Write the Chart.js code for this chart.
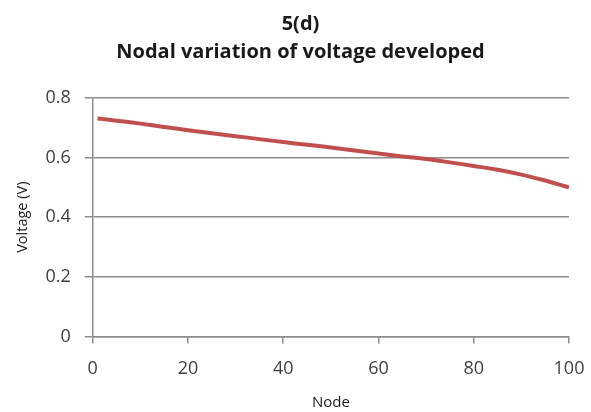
<!DOCTYPE html>
<html>
<head>
<meta charset="utf-8">
<script src="https://cdn.jsdelivr.net/npm/chart.js@4/dist/chart.umd.min.js"></script>
<style>
	html, body { margin: 0; padding: 0; background: #ffffff; }
	#wrap { width: 591px; height: 412px; }
</style>
</head>
<body>
<div id="wrap"><canvas id="volt-chart" width="591" height="412"></canvas></div>
<script>
var nodes = [1, 5, 10, 15, 20, 25, 30, 35, 40, 45, 50, 55, 60, 65, 70, 75, 80, 85, 90, 95, 100];
var voltage = [0.731, 0.724, 0.714, 0.703, 0.692, 0.682, 0.672, 0.662, 0.652, 0.643, 0.634,
	0.624, 0.614, 0.604, 0.595, 0.584, 0.572, 0.559, 0.543, 0.523, 0.500];
var titleLines = ["5(d)", "Nodal variation of voltage developed"];

var points = [];
for (var i = 0; i < nodes.length; i++) {
	points.push({x: nodes[i], y: voltage[i]});
}

var gridColor = "#8c8c8c";
var textColor = "#404040";
var fontName = "'Open Sans', 'Liberation Sans', sans-serif";

var voltChart = new Chart(document.getElementById("volt-chart"), {
	type: 'line',
	data: {
		datasets: [{
			data: points,
			borderColor: "#c0504d",
			borderWidth: 4,
			pointRadius: 0,
			tension: 0.4,
			fill: false
		}]
	},
	options: {
		responsive: false,
		animation: false,
		layout: { padding: { top: 0, right: 0, left: 10, bottom: 0 } },
		plugins: {
			legend: { display: false },
			tooltip: { enabled: false },
			title: {
				display: true,
				text: titleLines,
				color: "#1a1a1a",
				font: { family: fontName, size: 20, weight: 'bold', lineHeight: 1.4 },
				padding: { top: 10, bottom: 32 }
			}
		},
		scales: {
			x: {
				type: 'linear',
				min: 0,
				max: 100,
				ticks: { stepSize: 20, color: textColor, font: { family: fontName, size: 18 }, padding: 15 },
				grid: { drawOnChartArea: false, color: gridColor, tickLength: 7, lineWidth: 1.5 },
				border: { color: gridColor, width: 1.5 },
				title: { display: true, text: "Node", color: "#1a1a1a", font: { family: fontName, size: 15, lineHeight: 1 }, padding: { top: 0, bottom: 2 } },
				// keep the right margin tight, only room for half of the "100" label
				afterFit: function(scale) { scale.paddingRight = 22; }
			},
			y: {
				min: 0,
				max: 0.8,
				ticks: { stepSize: 0.2, color: textColor, font: { family: fontName, size: 18 }, padding: 14 },
				grid: { color: gridColor, tickLength: 8, lineWidth: 1.5 },
				border: { color: gridColor, width: 1.5 },
				title: { display: true, text: "Voltage (V)", color: "#1a1a1a", font: { family: fontName, size: 14.5 }, padding: { bottom: 0 } }
			}
		}
	}
});
</script>
</body>
</html>
